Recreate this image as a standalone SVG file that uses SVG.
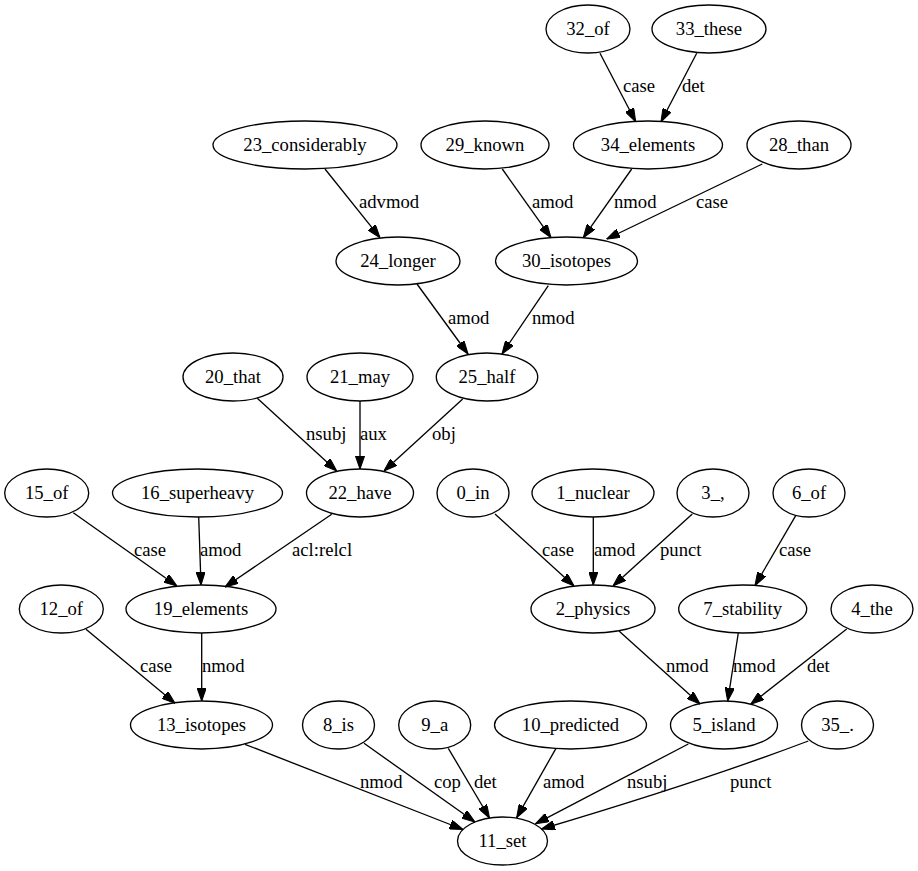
<svg xmlns="http://www.w3.org/2000/svg" width="918" height="871" viewBox="0 0 918 871">
<style>
.n ellipse{fill:none;stroke:#000;stroke-width:1.33}
text{font-family:"Liberation Serif","Times New Roman",serif;font-size:18.67px;fill:#000}
.n text{text-anchor:middle}
.e path{fill:none;stroke:#000;stroke-width:1.33;marker-end:url(#arr)}
</style>
<defs>
<marker id="arr" viewBox="0 0 10 7" refX="10" refY="3.5" markerWidth="13.3" markerHeight="9.3" markerUnits="userSpaceOnUse" orient="auto">
<path d="M0,0 L10,3.5 L0,7 z" fill="#000" stroke="#000" stroke-width="0.8"/>
</marker>
</defs>
<rect width="918" height="871" fill="#fff"/>
<g id="edges" class="e">
<path d="M600,53.3 L635.7,121.7"/><text x="623" y="92">case</text>
<path d="M696.7,53.3 L661,121.7"/><text x="682" y="92">det</text>
<path d="M325,169 L380,237.7"/><text x="359" y="208">advmod</text>
<path d="M502.3,169 L551,237.7"/><text x="532" y="208">amod</text>
<path d="M631.7,169 L583.3,237.7"/><text x="614" y="208">nmod</text>
<path d="M762.3,164 L606.7,239"/><text x="696" y="208">case</text>
<path d="M417,284 L468,354"/><text x="448" y="324">amod</text>
<path d="M548.3,285.7 L502,354"/><text x="532" y="324">nmod</text>
<path d="M257.3,398.3 L336.7,471"/><text x="306" y="440">nsubj</text>
<path d="M360,401 L360,469"/><text x="360" y="440">aux</text>
<path d="M462.7,399 L384,471"/><text x="432" y="440">obj</text>
<path d="M73.3,512.7 L177,586"/><text x="134" y="556">case</text>
<path d="M198.7,517 L201,585"/><text x="200" y="556">amod</text>
<path d="M331.7,514.3 L225,587"/><text x="292" y="556">acl:relcl</text>
<path d="M495,514 L574,586"/><text x="542" y="556">case</text>
<path d="M593.3,517 L593.3,585"/><text x="594" y="556">amod</text>
<path d="M692.3,514 L613,586"/><text x="660" y="556">punct</text>
<path d="M795.7,515.7 L755,585.5"/><text x="779" y="556">case</text>
<path d="M86,629.3 L175,703.3"/><text x="140" y="672">case</text>
<path d="M201.7,633 L201.7,701"/><text x="202" y="672">nmod</text>
<path d="M619,631 L700,704"/><text x="666" y="672">nmod</text>
<path d="M738.3,633 L727.7,701"/><text x="733" y="672">nmod</text>
<path d="M846.7,629 L750.7,704.3"/><text x="807" y="672">det</text>
<path d="M245,744.3 L463,829.5"/><text x="360" y="788">nmod</text>
<path d="M364,743.3 L475,822"/><text x="434" y="788">cop</text>
<path d="M448.3,748.3 L489.5,818"/><text x="474" y="788">det</text>
<path d="M556,748.3 L516.7,817.7"/><text x="543" y="788">amod</text>
<path d="M688.3,744 L535.5,823.8"/><text x="627" y="788">nsubj</text>
<path d="M808.3,741 Q700,782 541.5,829"/><text x="730" y="788">punct</text>
</g>
<g id="n32" class="n"><ellipse cx="588" cy="29" rx="42" ry="24"/><text x="588" y="34.5">32_of</text></g>
<g id="n33" class="n"><ellipse cx="709" cy="29" rx="57" ry="24"/><text x="709" y="34.5">33_these</text></g>
<g id="n23" class="n"><ellipse cx="305" cy="145" rx="92" ry="24"/><text x="305" y="150.5">23_considerably</text></g>
<g id="n29" class="n"><ellipse cx="485" cy="145" rx="64" ry="24"/><text x="485" y="150.5">29_known</text></g>
<g id="n34" class="n"><ellipse cx="648" cy="145" rx="74.5" ry="24"/><text x="648" y="150.5">34_elements</text></g>
<g id="n28" class="n"><ellipse cx="799" cy="145" rx="52" ry="24"/><text x="799" y="150.5">28_than</text></g>
<g id="n24" class="n"><ellipse cx="398" cy="261" rx="62" ry="24"/><text x="398" y="266.5">24_longer</text></g>
<g id="n30" class="n"><ellipse cx="566.5" cy="261" rx="71" ry="24"/><text x="566.5" y="266.5">30_isotopes</text></g>
<g id="n20" class="n"><ellipse cx="233" cy="377" rx="50" ry="24"/><text x="233" y="382.5">20_that</text></g>
<g id="n21" class="n"><ellipse cx="360" cy="377" rx="53" ry="24"/><text x="360" y="382.5">21_may</text></g>
<g id="n25" class="n"><ellipse cx="487" cy="377" rx="50.7" ry="24"/><text x="487" y="382.5">25_half</text></g>
<g id="n15" class="n"><ellipse cx="46.7" cy="493" rx="42" ry="24"/><text x="46.7" y="498.5">15_of</text></g>
<g id="n16" class="n"><ellipse cx="197.5" cy="493" rx="85" ry="24"/><text x="197.5" y="498.5">16_superheavy</text></g>
<g id="n22" class="n"><ellipse cx="360" cy="493" rx="53.5" ry="24"/><text x="360" y="498.5">22_have</text></g>
<g id="n0" class="n"><ellipse cx="473" cy="493" rx="36" ry="24"/><text x="473" y="498.5">0_in</text></g>
<g id="n1" class="n"><ellipse cx="593" cy="493" rx="61" ry="24"/><text x="593" y="498.5">1_nuclear</text></g>
<g id="n3" class="n"><ellipse cx="713" cy="493" rx="36" ry="24"/><text x="713" y="498.5">3_,</text></g>
<g id="n6" class="n"><ellipse cx="809" cy="493" rx="36" ry="24"/><text x="809" y="498.5">6_of</text></g>
<g id="n12" class="n"><ellipse cx="61.3" cy="609" rx="42" ry="24"/><text x="61.3" y="614.5">12_of</text></g>
<g id="n19" class="n"><ellipse cx="201" cy="609" rx="75" ry="24"/><text x="201" y="614.5">19_elements</text></g>
<g id="n2" class="n"><ellipse cx="593" cy="609" rx="62" ry="24"/><text x="593" y="614.5">2_physics</text></g>
<g id="n7" class="n"><ellipse cx="742.7" cy="609" rx="64" ry="24"/><text x="742.7" y="614.5">7_stability</text></g>
<g id="n4" class="n"><ellipse cx="872" cy="609" rx="41" ry="24"/><text x="872" y="614.5">4_the</text></g>
<g id="n13" class="n"><ellipse cx="201.5" cy="725" rx="71" ry="24"/><text x="201.5" y="730.5">13_isotopes</text></g>
<g id="n8" class="n"><ellipse cx="338.5" cy="725" rx="36" ry="24"/><text x="338.5" y="730.5">8_is</text></g>
<g id="n9" class="n"><ellipse cx="434.7" cy="725" rx="36" ry="24"/><text x="434.7" y="730.5">9_a</text></g>
<g id="n10" class="n"><ellipse cx="570.5" cy="725" rx="76" ry="24"/><text x="570.5" y="730.5">10_predicted</text></g>
<g id="n5" class="n"><ellipse cx="724" cy="725" rx="53.5" ry="24"/><text x="724" y="730.5">5_island</text></g>
<g id="n35" class="n"><ellipse cx="837.5" cy="725" rx="36" ry="24"/><text x="837.5" y="730.5">35_.</text></g>
<g id="n11" class="n"><ellipse cx="502.5" cy="841" rx="45" ry="24"/><text x="502.5" y="846.5">11_set</text></g>
</svg>
